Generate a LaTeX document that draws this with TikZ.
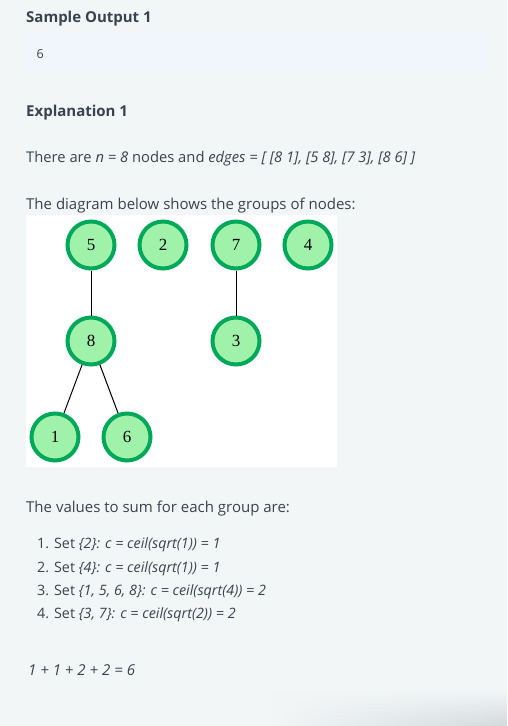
\documentclass[tikz,border=0pt]{standalone}
\usepackage{fontspec}
\setmainfont{Open Sans}
\newfontfamily\numfont{Liberation Serif}
\usetikzlibrary{fadings}
\definecolor{bgc}{RGB}{242,246,247}
\definecolor{boxc}{RGB}{240,246,252}
\definecolor{txtc}{RGB}{57,66,78}
\definecolor{nodefill}{RGB}{160,242,170}
\definecolor{nodedraw}{RGB}{0,168,89}
\definecolor{shadowc}{RGB}{212,217,220}
\tikzset{
  gnode/.style={circle, draw=nodedraw, fill=nodefill, line width=4pt, minimum size=47pt, inner sep=0pt, font=\numfont\fontsize{17}{20}\selectfont, text=black},
  gedge/.style={draw=black, line width=1pt},
  heading/.style={anchor=base west, inner sep=0pt, text=txtc, font=\bfseries\fontsize{15}{18}\selectfont},
  body/.style={anchor=base west, inner sep=0pt, text=txtc, font=\fontsize{15}{18}\selectfont},
  item/.style={anchor=base west, inner sep=0pt, text=txtc, font=\fontsize{14.3}{17}\selectfont},
}
\begin{document}
\begin{tikzpicture}[x=1pt,y=-1pt]
\useasboundingbox (0,0) rectangle (507,726);
\fill[bgc] (0,0) rectangle (507,726);
% shadow at bottom right
\shade[top color=bgc, bottom color=shadowc, path fading=west] (270,690) rectangle (507,726);
% headings
\node[heading] (h1) at (26,22) {Sample Output 1};
\fill[boxc, rounded corners=2pt] (26,33) rectangle (487,72.5);
\node[body, font=\fontsize{12.5}{14}\selectfont] (out) at (36.5,58) {6};
\node[heading] (h2) at (26,116) {Explanation 1};
\node[body, font=\fontsize{14.75}{18}\selectfont] (l1) at (26,162) {There are \textit{n = 8} nodes and \textit{edges = [ [8 1], [5 8], [7 3], [8 6] ]}};
\node[body] (l2) at (26,209) {The diagram below shows the groups of nodes:};
% diagram
\fill[white] (26,215) rectangle (337,467);
\node[gnode] (n5) at (91,245) {5};
\node[gnode] (n2) at (163,245) {2};
\node[gnode] (n7) at (236,245) {7};
\node[gnode] (n4) at (308,245) {4};
\node[gnode] (n8) at (91,341) {8};
\node[gnode] (n3) at (236,341) {3};
\node[gnode] (n1) at (55,437) {1};
\node[gnode] (n6) at (127,437) {6};
\draw[gedge] (n5) -- (n8);
\draw[gedge] (n7) -- (n3);
\draw[gedge] (n8) -- (n1);
\draw[gedge] (n8) -- (n6);
% lower text
\node[body] (l3) at (26,512) {The values to sum for each group are:};
\node[item] (i1) at (37,548) {1. Set \textit{\{2\}: c = ceil(sqrt(1)) = 1}};
\node[item] (i2) at (37,572) {2. Set \textit{\{4\}: c = ceil(sqrt(1)) = 1}};
\node[item] (i3) at (37,595) {3. Set \textit{\{1, 5, 6, 8\}: c = ceil(sqrt(4)) = 2}};
\node[item] (i4) at (37,618) {4. Set \textit{\{3, 7\}: c = ceil(sqrt(2)) = 2}};
\node[body] (sum) at (28,675) {\textit{1 + 1 + 2 + 2 = 6}};
\end{tikzpicture}
\end{document}
